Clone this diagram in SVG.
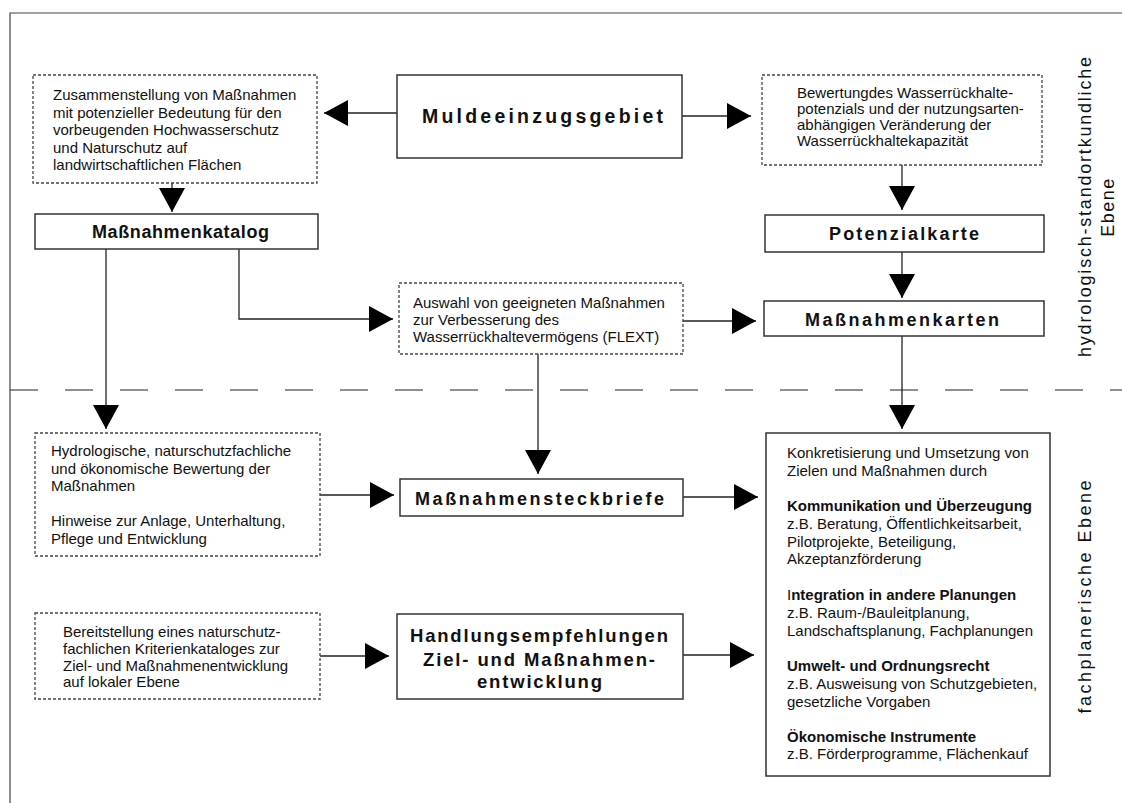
<svg xmlns="http://www.w3.org/2000/svg" width="1122" height="803" viewBox="0 0 1122 803">
<style>
  text { font-family: "Liberation Sans", Arial, sans-serif; fill: #111; }
  .body { font-size: 15px; }
  .b { font-weight: bold; }
  .title { font-size: 18px; font-weight: bold; text-anchor: middle; }
  .side { font-size: 18px; text-anchor: middle; }
  .solid { fill: #fff; stroke: #333; stroke-width: 1.5; }
  .dotted { fill: #fff; stroke: #444; stroke-width: 1.3; stroke-dasharray: 3 2; }
  .conn { fill: none; stroke: #222; stroke-width: 1.3; marker-end: url(#arr); }
  .frame { fill: none; stroke: #444; stroke-width: 1.2; }
</style>
<defs>
  <marker id="arr" markerUnits="userSpaceOnUse" markerWidth="24" markerHeight="26" refX="24" refY="13" orient="auto">
    <path d="M0,0 L24,13 L0,26 Z" fill="#000"/>
  </marker>
</defs>
<rect width="1122" height="803" fill="#fff"/>
<g id="frame">
  <path class="frame" d="M10,803 V13 H1122"/>
  <line x1="10" y1="390" x2="1122" y2="390" stroke="#222" stroke-width="1.2" stroke-dasharray="28 27"/>
</g>
<g id="connectors">
  <path class="conn" d="M397,113 H324"/>
  <path class="conn" d="M682,116 H751"/>
  <path class="conn" d="M172,183 V212"/>
  <path class="conn" d="M902,165 V210"/>
  <path class="conn" d="M902,252 V298"/>
  <path class="conn" d="M106,249 V429"/>
  <path class="conn" d="M239,249 V319 H393"/>
  <path class="conn" d="M683,321 H756"/>
  <path class="conn" d="M902,336 V429"/>
  <path class="conn" d="M538,354 V474"/>
  <path class="conn" d="M320,495 H394"/>
  <path class="conn" d="M683,497 H758"/>
  <path class="conn" d="M320,656 H389"/>
  <path class="conn" d="M683,655 H754"/>
</g>
<g id="zusammenstellung">
  <rect class="dotted" x="33" y="75" width="284" height="108"/>
  <text class="body" x="53" y="100">Zusammenstellung von Maßnahmen</text>
  <text class="body" x="53" y="117.5">mit potenzieller Bedeutung für den</text>
  <text class="body" x="53" y="135">vorbeugenden Hochwasserschutz</text>
  <text class="body" x="53" y="152.5">und Naturschutz auf</text>
  <text class="body" x="53" y="170">landwirtschaftlichen Flächen</text>
</g>
<g id="muldeeinzugsgebiet">
  <rect class="solid" x="397" y="75" width="285" height="83"/>
  <text class="title" x="542.5" y="122.5" style="font-size:19.5px" textLength="241" lengthAdjust="spacing">Muldeeinzugsgebiet</text>
</g>
<g id="bewertung">
  <rect class="dotted" x="762" y="75" width="280" height="90"/>
  <text class="body" x="797" y="98">Bewertungdes Wasserrückhalte-</text>
  <text class="body" x="797" y="114">potenzials und der nutzungsarten-</text>
  <text class="body" x="797" y="130">abhängigen Veränderung der</text>
  <text class="body" x="797" y="146">Wasserrückhaltekapazität</text>
</g>
<g id="massnahmenkatalog">
  <rect class="solid" x="35" y="214" width="283" height="35"/>
  <text class="title" x="180.5" y="237.5" textLength="177" lengthAdjust="spacing">Maßnahmenkatalog</text>
</g>
<g id="potenzialkarte">
  <rect class="solid" x="765" y="215" width="279" height="37"/>
  <text class="title" x="904" y="239.5" textLength="150" lengthAdjust="spacing">Potenzialkarte</text>
</g>
<g id="auswahl">
  <rect class="dotted" x="399" y="283" width="284" height="71"/>
  <text class="body" x="413" y="308">Auswahl von geeigneten Maßnahmen</text>
  <text class="body" x="413" y="325">zur Verbesserung des</text>
  <text class="body" x="413" y="342">Wasserrückhaltevermögens (FLEXT)</text>
</g>
<g id="massnahmenkarten">
  <rect class="solid" x="764" y="301" width="280" height="35"/>
  <text class="title" x="902" y="326" textLength="194" lengthAdjust="spacing">Maßnahmenkarten</text>
</g>
<g id="hydrologische-bewertung">
  <rect class="dotted" x="35" y="433" width="285" height="123"/>
  <text class="body" x="51" y="456">Hydrologische, naturschutzfachliche</text>
  <text class="body" x="51" y="473.5">und ökonomische Bewertung der</text>
  <text class="body" x="51" y="491">Maßnahmen</text>
  <text class="body" x="51" y="526">Hinweise zur Anlage, Unterhaltung,</text>
  <text class="body" x="51" y="543.5">Pflege und Entwicklung</text>
</g>
<g id="massnahmensteckbriefe">
  <rect class="solid" x="400" y="479" width="283" height="37"/>
  <text class="title" x="539.5" y="504.5" textLength="249" lengthAdjust="spacing">Maßnahmensteckbriefe</text>
</g>
<g id="bereitstellung">
  <rect class="dotted" x="35" y="613" width="285" height="86"/>
  <text class="body" x="63" y="637">Bereitstellung eines naturschutz-</text>
  <text class="body" x="63" y="654">fachlichen Kriterienkataloges zur</text>
  <text class="body" x="63" y="670.5">Ziel- und Maßnahmenentwicklung</text>
  <text class="body" x="63" y="687">auf lokaler Ebene</text>
</g>
<g id="handlungsempfehlungen">
  <rect class="solid" x="397" y="614" width="286" height="85"/>
  <text class="title" x="539" y="642" style="font-size:18.5px" textLength="258" lengthAdjust="spacing">Handlungsempfehlungen</text>
  <text class="title" x="539" y="666" style="font-size:18.5px" textLength="232" lengthAdjust="spacing">Ziel- und Maßnahmen-</text>
  <text class="title" x="539.5" y="688" style="font-size:18.5px" textLength="125" lengthAdjust="spacing">entwicklung</text>
</g>
<g id="umsetzung">
  <rect class="solid" x="766" y="433" width="284" height="343"/>
  <text class="body" x="787" y="458">Konkretisierung und Umsetzung von</text>
  <text class="body" x="787" y="476">Zielen und Maßnahmen durch</text>
  <text class="body b" x="787" y="511">Kommunikation und Überzeugung</text>
  <text class="body" x="787" y="529">z.B. Beratung, Öffentlichkeitsarbeit,</text>
  <text class="body" x="787" y="547">Pilotprojekte, Beteiligung,</text>
  <text class="body" x="787" y="564">Akzeptanzförderung</text>
  <text class="body" x="787" y="600">I<tspan class="b">ntegration in andere Planungen</tspan></text>
  <text class="body" x="787" y="618">z.B. Raum-/Bauleitplanung,</text>
  <text class="body" x="787" y="636">Landschaftsplanung, Fachplanungen</text>
  <text class="body b" x="787" y="671">Umwelt- und Ordnungsrecht</text>
  <text class="body" x="787" y="689">z.B. Ausweisung von Schutzgebieten,</text>
  <text class="body" x="787" y="707">gesetzliche Vorgaben</text>
  <text class="body b" x="787" y="742">Ökonomische Instrumente</text>
  <text class="body" x="787" y="759">z.B. Förderprogramme, Flächenkauf</text>
</g>
<g id="side-labels">
  <text class="side" transform="translate(1091,207) rotate(-90)" textLength="300" lengthAdjust="spacing">hydrologisch-standortkundliche</text>
  <text class="side" transform="translate(1114,207) rotate(-90)" letter-spacing="1.5">Ebene</text>
  <text class="side" transform="translate(1091,597) rotate(-90)" textLength="233" lengthAdjust="spacing">fachplanerische Ebene</text>
</g>
</svg>
